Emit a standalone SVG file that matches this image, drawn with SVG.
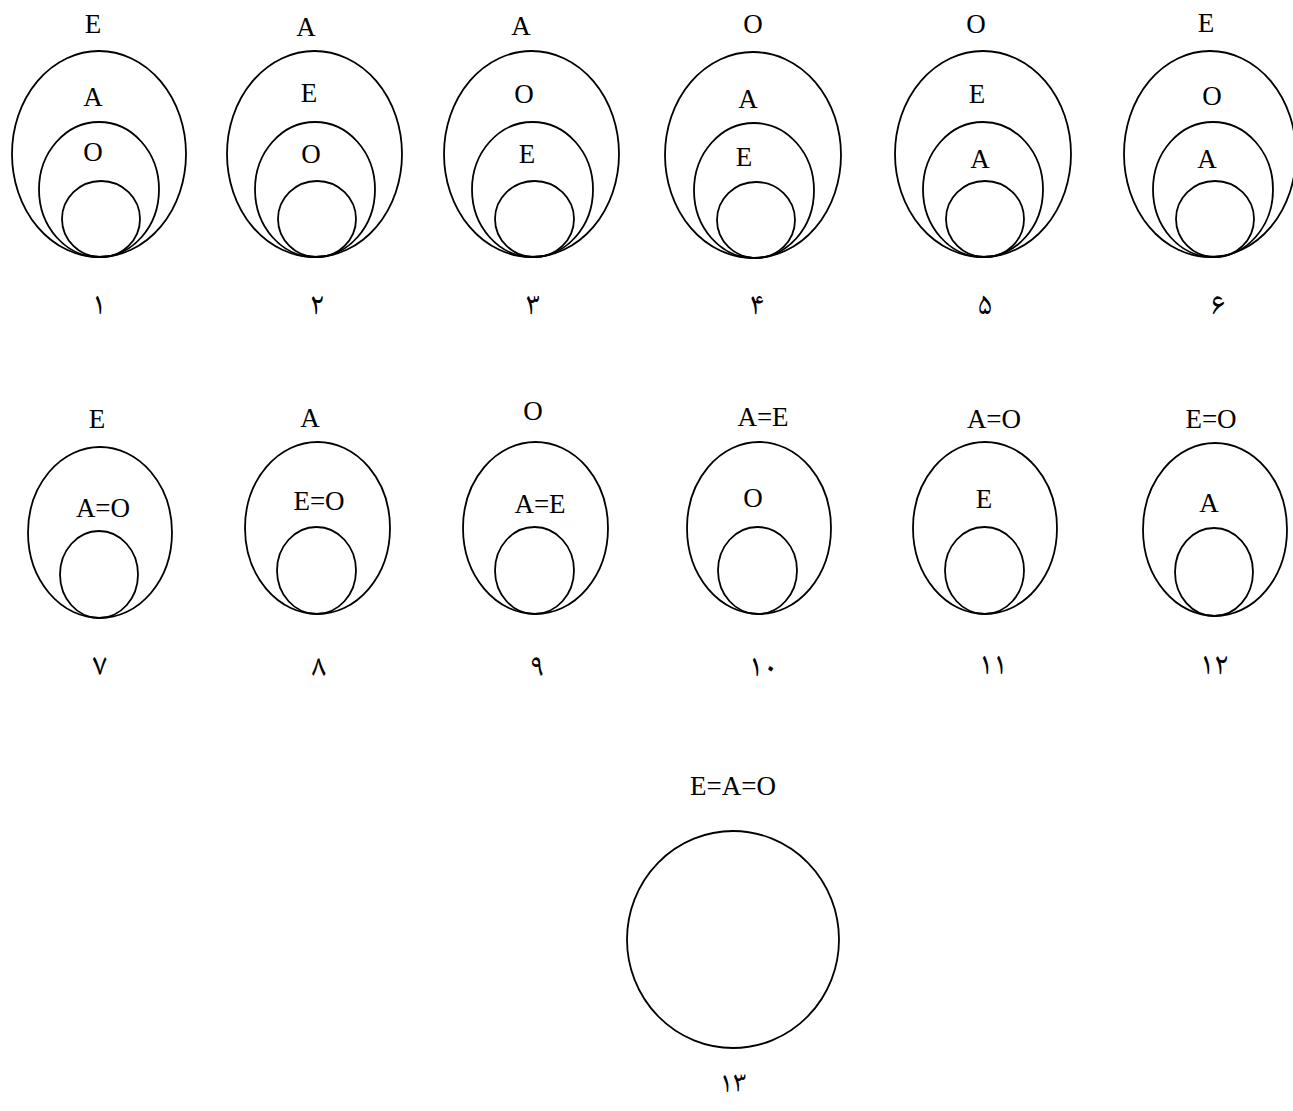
<svg xmlns="http://www.w3.org/2000/svg" width="1293" height="1111" viewBox="0 0 1293 1111">
<style>
  .s { fill: none; stroke: #000; stroke-width: 1.8; }
  .t { font-family: "Liberation Serif", "Times New Roman", serif; font-size: 27px; fill: #000; text-anchor: middle; }
  .n { font-family: "Noto Naskh Arabic", "Noto Sans Arabic", "DejaVu Sans", serif; font-size: 32px; font-weight: normal; fill: #000; text-anchor: middle; }
</style>
<rect width="1293" height="1111" fill="#fff"/>
<g id="d1">
  <ellipse class="s" cx="99" cy="154" rx="87" ry="103"/>
  <ellipse class="s" cx="99" cy="189.5" rx="60" ry="67.5"/>
  <ellipse class="s" cx="101" cy="219" rx="39" ry="38"/>
  <text class="t" x="93" y="33">E</text>
  <text class="t" x="93" y="106">A</text>
  <text class="t" x="93" y="161">O</text>
  <text class="n" x="99" y="314">۱</text>
</g>
<g id="d2">
  <ellipse class="s" cx="314.5" cy="154" rx="87.5" ry="103"/>
  <ellipse class="s" cx="315" cy="189.5" rx="60" ry="67.5"/>
  <ellipse class="s" cx="317" cy="219" rx="39" ry="38"/>
  <text class="t" x="306" y="36">A</text>
  <text class="t" x="309" y="102">E</text>
  <text class="t" x="311" y="163">O</text>
  <text class="n" x="317" y="314">۲</text>
</g>
<g id="d3">
  <ellipse class="s" cx="531.5" cy="154" rx="87.5" ry="103"/>
  <ellipse class="s" cx="532.5" cy="189.5" rx="60.5" ry="67.5"/>
  <ellipse class="s" cx="534.5" cy="219" rx="39.5" ry="38"/>
  <text class="t" x="521" y="35">A</text>
  <text class="t" x="524" y="103">O</text>
  <text class="t" x="527" y="163">E</text>
  <text class="n" x="533" y="314">۳</text>
</g>
<g id="d4">
  <ellipse class="s" cx="753" cy="155" rx="88" ry="103"/>
  <ellipse class="s" cx="754" cy="190.5" rx="60" ry="67.5"/>
  <ellipse class="s" cx="756" cy="220" rx="39" ry="38"/>
  <text class="t" x="753" y="33">O</text>
  <text class="t" x="748" y="108">A</text>
  <text class="t" x="744" y="166">E</text>
  <text class="n" x="757" y="314">۴</text>
</g>
<g id="d5">
  <ellipse class="s" cx="983" cy="154" rx="88" ry="103"/>
  <ellipse class="s" cx="983" cy="189.5" rx="60" ry="67.5"/>
  <ellipse class="s" cx="985" cy="219" rx="39" ry="38"/>
  <text class="t" x="976" y="33">O</text>
  <text class="t" x="977" y="103">E</text>
  <text class="t" x="980" y="168">A</text>
  <text class="n" x="985" y="314">۵</text>
</g>
<g id="d6">
  <ellipse class="s" cx="1210" cy="154" rx="86" ry="103"/>
  <ellipse class="s" cx="1213" cy="189.5" rx="60" ry="67.5"/>
  <ellipse class="s" cx="1215" cy="219" rx="39" ry="38"/>
  <text class="t" x="1206" y="32">E</text>
  <text class="t" x="1212" y="105">O</text>
  <text class="t" x="1207" y="168">A</text>
  <text class="n" x="1218" y="314">۶</text>
</g>
<g id="d7">
  <ellipse class="s" cx="100" cy="532.5" rx="72" ry="85.5"/>
  <ellipse class="s" cx="99" cy="574.5" rx="39" ry="43.5"/>
  <text class="t" x="97" y="428">E</text>
  <text class="t" x="103" y="517">A=O</text>
  <text class="n" x="100" y="675">۷</text>
</g>
<g id="d8">
  <ellipse class="s" cx="317.5" cy="528" rx="72.5" ry="86"/>
  <ellipse class="s" cx="316.5" cy="570.5" rx="39.5" ry="43.5"/>
  <text class="t" x="310" y="427">A</text>
  <text class="t" x="319" y="510">E=O</text>
  <text class="n" x="319" y="676">۸</text>
</g>
<g id="d9">
  <ellipse class="s" cx="535.5" cy="528" rx="72.5" ry="86"/>
  <ellipse class="s" cx="534.5" cy="570.5" rx="39.5" ry="43.5"/>
  <text class="t" x="533" y="420">O</text>
  <text class="t" x="540" y="513">A=E</text>
  <text class="n" x="537" y="676">۹</text>
</g>
<g id="d10">
  <ellipse class="s" cx="759" cy="528" rx="72" ry="86"/>
  <ellipse class="s" cx="757.5" cy="570.5" rx="39.5" ry="43.5"/>
  <text class="t" x="763" y="426">A=E</text>
  <text class="t" x="753" y="507">O</text>
  <text class="n" x="763" y="676">۱۰</text>
</g>
<g id="d11">
  <ellipse class="s" cx="985" cy="528" rx="72" ry="86"/>
  <ellipse class="s" cx="984.5" cy="570.5" rx="39.5" ry="43.5"/>
  <text class="t" x="994" y="428">A=O</text>
  <text class="t" x="984" y="508">E</text>
  <text class="n" x="993" y="674">۱۱</text>
</g>
<g id="d12">
  <ellipse class="s" cx="1215" cy="529.5" rx="72" ry="86.5"/>
  <ellipse class="s" cx="1214" cy="572" rx="39" ry="44"/>
  <text class="t" x="1211" y="428">E=O</text>
  <text class="t" x="1209" y="512">A</text>
  <text class="n" x="1214" y="674">۱۲</text>
</g>
<g id="d13">
  <ellipse class="s" cx="733" cy="939.5" rx="106" ry="108.5"/>
  <text class="t" x="733" y="795">E=A=O</text>
  <text class="n" x="733" y="1092" style="font-size:30px">۱۳</text>
</g>
<g id="connectors"></g>
</svg>
